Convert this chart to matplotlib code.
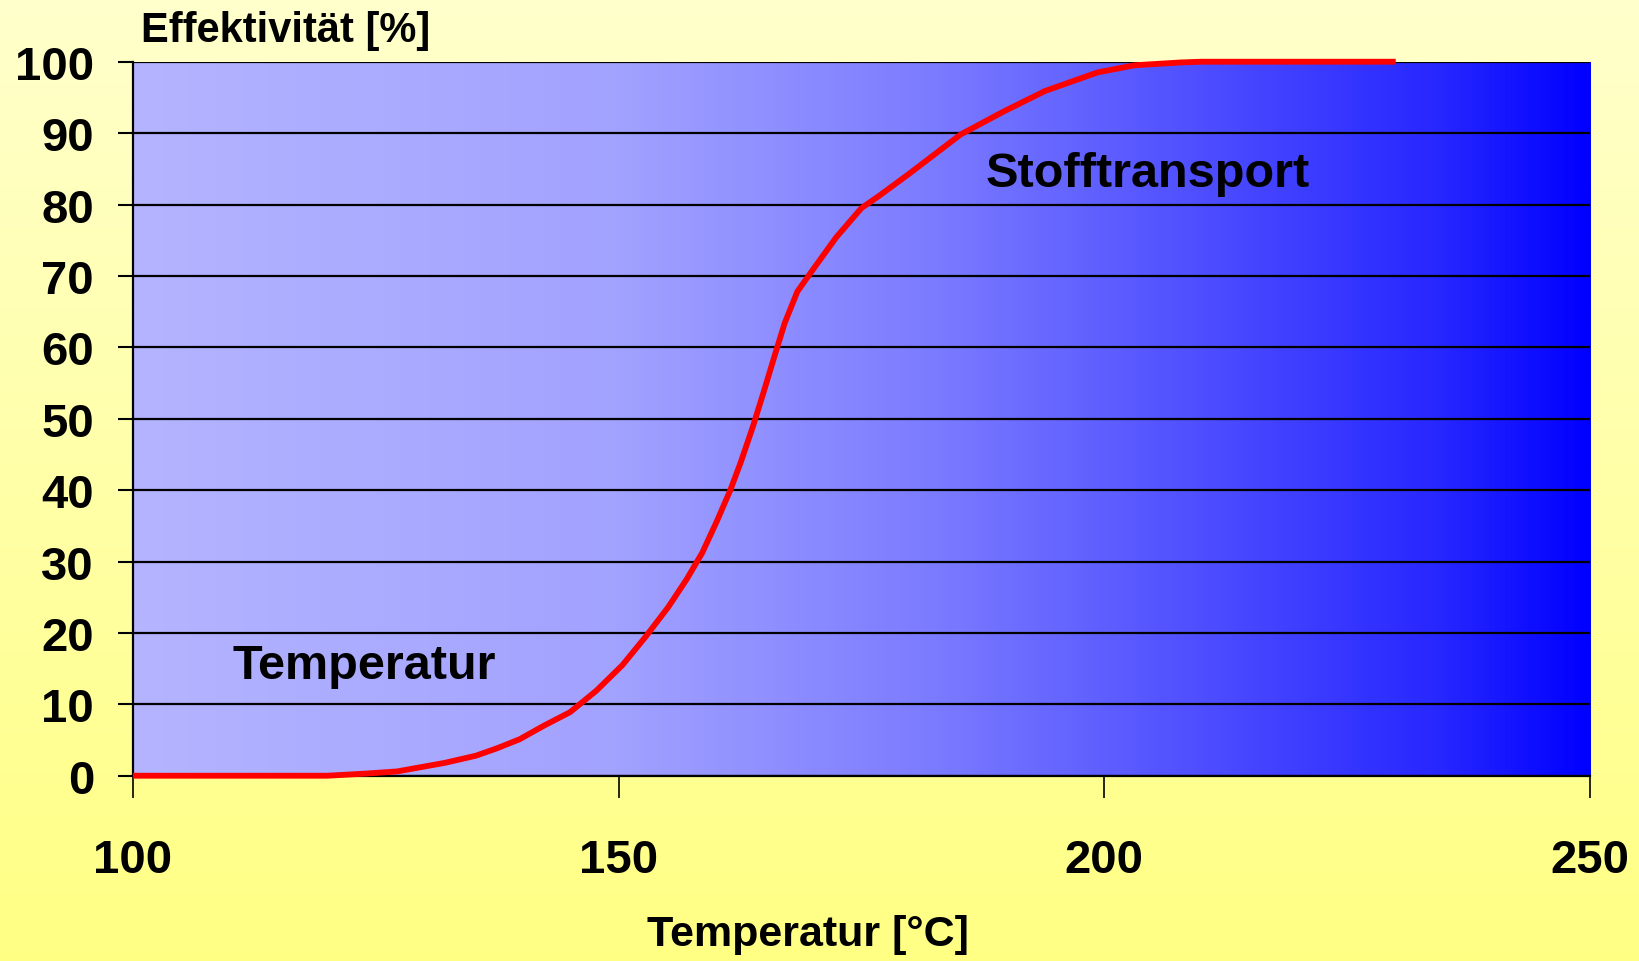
import numpy as np
import matplotlib
matplotlib.use("Agg")
import matplotlib.pyplot as plt
from matplotlib.colors import LinearSegmentedColormap

plt.rcParams['font.family'] = ['Liberation Sans', 'DejaVu Sans']
plt.rcParams['font.weight'] = 'bold'

# Effektivität over temperature
temp = [100, 110, 120, 124, 127.2, 132.1, 135.3, 137.4, 139.8, 142.3, 145, 147.7,
        150.4, 152.8, 155.1, 157, 158.6, 160.1, 161.5, 162.6, 163.8, 164.9, 166.1,
        167.1, 168.4, 169.8, 172.4, 175, 176.8, 179.9, 182.6, 185.2, 189.6, 193.9,
        199.3, 203.1, 207.9, 210, 220, 230]
effekt = [0, 0, 0, 0.3, 0.6, 1.8, 2.8, 3.8, 5.1, 7.0, 8.9, 11.9,
          15.5, 19.5, 23.6, 27.5, 31.2, 35.6, 40.0, 44.0, 48.8, 53.6, 59.0,
          63.4, 67.8, 70.5, 75.4, 79.5, 81.2, 84.3, 87.1, 89.8, 93.0, 95.9,
          98.5, 99.5, 99.9, 100, 100, 100]

x_ticks = [100, 150, 200, 250]
y_ticks = list(range(0, 101, 10))

fig = plt.figure(figsize=(16.39, 9.62), dpi=100)

# yellow page background, lighter at the top
bg = fig.add_axes([0, 0, 1, 1], zorder=-10)
bg_cmap = LinearSegmentedColormap.from_list("page", ["#FFFF84", "#FFFFCC"])
bg.imshow(np.linspace(0, 1, 256).reshape(-1, 1), cmap=bg_cmap, aspect='auto',
          origin='lower', extent=[0, 1, 0, 1])
bg.set_axis_off()

ax = fig.add_axes([0.0811, 0.1926, 0.8890, 0.7422])
ax.patch.set_alpha(0)

# blue plot area, fading to full blue on the right
area_cmap = LinearSegmentedColormap.from_list(
    "area", [(0, "#B4B4FF"), (0.33, "#A2A2FF"), (0.55, "#7B7BFF"),
             (0.75, "#4A4AFF"), (0.9, "#2626FF"), (1, "#0000FF")])
ax.imshow(np.linspace(0, 1, 512).reshape(1, -1), cmap=area_cmap, aspect='auto',
          extent=[100, 250, 0, 100], zorder=0)

ax.set_xlim(100, 250)
ax.set_ylim(0, 100)
ax.set_xticks(x_ticks)
ax.set_yticks(y_ticks)
ax.yaxis.grid(True, color='black', linewidth=1.6, zorder=1)
ax.set_axisbelow(False)

for side in ['top', 'right']:
    ax.spines[side].set_visible(False)
for side in ['left', 'bottom']:
    ax.spines[side].set_linewidth(1.6)
    ax.spines[side].set_zorder(3)

ax.tick_params(axis='y', direction='out', length=11, width=1.5, pad=17,
               labelsize=34)
ax.tick_params(axis='x', direction='out', length=16, width=1.2, pad=29,
               labelsize=34)
for lab in ax.get_xticklabels() + ax.get_yticklabels():
    lab.set_fontweight('bold')

ax.plot(temp, effekt, color='#FF0000', linewidth=4.2, zorder=4,
        solid_capstyle='butt', clip_on=False)

ax.text(110.3, 15.5, "Temperatur", fontsize=35, fontweight='bold',
        va='center', ha='left', zorder=5)
ax.text(187.8, 84.4, "Stofftransport", fontsize=35, fontweight='bold',
        va='center', ha='left', zorder=5)

fig.text(141 / 1639, 1 - 42 / 962, "Effektivität [%]", fontsize=30,
         fontweight='bold', ha='left', va='baseline')
fig.text(808 / 1639, 1 - 935 / 962, "Temperatur [°C]", fontsize=31,
         fontweight='bold', ha='center', va='center')

fig.savefig("out.png", dpi=100)
